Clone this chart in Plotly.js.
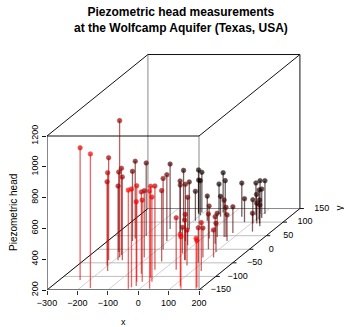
<!DOCTYPE html>
<html><head><meta charset="utf-8">
<script src="https://cdn.plot.ly/plotly-3.0.1.min.js"></script>
<style>html,body{margin:0;padding:0;background:#fff}</style>
</head><body><div id="chart" style="width:344px;height:327px"></div>
<script>
// ---- data ----
const wellX = [-232,-165,-219,-178,-202,-194,-199,-219,-174,-188,-220,-218,-38,-33,-38,-56,-113,-23,-20,-195,-144,-105,-84,-28,-9,32,12,-39,-133,-78,-94,-44,-81,-20,-94,-117,-106,-111,-100,-55,-44,-36,-28,67,-18,42,73,106,83,91,107,113,110,107,128,73,93,79,138,119,140,42,122,135,-4,33,31,61,185,182,87,130,80,23,65,65,44,101,115];
const wellY = [-113,-143,-40,-80,-60,-30,-20,-10,-40,-40,40,30,-120,-140,-145,-90,-30,-135,-120,50,75,30,0,-75,-105,-145,-120,-45,105,45,60,30,75,15,105,135,135,130,125,105,130,135,120,45,125,120,100,95,125,130,130,115,110,105,95,45,30,60,65,95,85,-75,-135,-145,-15,-40,-40,-60,-145,-140,-50,-80,-30,40,0,20,45,-10,-30];
const head  = [1058,1071,865,838,744,1088,761,719,740,681,701,653,824,838,840,731,633,747,731,672,621,631,660,743,794,834,751,660,527,564,511,569,505,511,391,477,462,420,425,360,394,459,332,440,425,418,352,354,410,416,416,388,391,371,352,393,371,370,319,331,338,537,535,537,369,497,460,431,527,503,428,514,391,410,429,376,354,386,378];
const xTicks = [-300,-200,-100,0,100,200];
const yTicks = [-150,-100,-50,0,50,100,150];
const zTicks = [200,400,600,800,1000,1200];
const titleText = "<b>Piezometric head measurements<br>at the Wolfcamp Aquifer (Texas, USA)</b>";

// ---- oblique (scatterplot3d-like) projection ----
const XR = [-300,200], YR = [-150,150], ZR = [200,1200];
const DX = 332/300, DZ = 529/300;           // shift of the receding y axis
const PX = (x,y) => x + (y - YR[0]) * DX;
const PZ = (z,y) => z + (y - YR[0]) * DZ;
const minus = v => String(v).replace('-','\u2212');

const traces = [];
function seg(list, color, width){
  const xs=[], ys=[];
  list.forEach(s=>{ xs.push(PX(s[0],s[1]), PX(s[3],s[4]), null); ys.push(PZ(s[2],s[1]), PZ(s[5],s[4]), null); });
  traces.push({type:'scatter',mode:'lines',x:xs,y:ys,line:{color:color,width:width},hoverinfo:'skip',showlegend:false,cliponaxis:false});
}
// floor grid
seg(xTicks.map(x=>[x,YR[0],ZR[0],x,YR[1],ZR[0]]), '#d0d0d0', 1);
seg(yTicks.map(y=>[XR[0],y,ZR[0],XR[1],y,ZR[0]]), '#bdbdbd', 1);
// hidden box edges
seg([[XR[1],YR[0],ZR[0],XR[1],YR[0],ZR[1]],
     [XR[0],YR[1],ZR[0],XR[0],YR[1],ZR[1]],
     [XR[0],YR[1],ZR[0],XR[1],YR[1],ZR[0]]], '#8a8a8a', 1);
// visible box edges
seg([[XR[0],YR[0],ZR[0],XR[0],YR[0],ZR[1]],
     [XR[0],YR[0],ZR[1],XR[1],YR[0],ZR[1]],
     [XR[0],YR[0],ZR[1],XR[0],YR[1],ZR[1]],
     [XR[1],YR[0],ZR[1],XR[1],YR[1],ZR[1]],
     [XR[0],YR[1],ZR[1],XR[1],YR[1],ZR[1]],
     [XR[1],YR[1],ZR[0],XR[1],YR[1],ZR[1]],
     [XR[0],YR[0],ZR[0],XR[0],YR[1],ZR[0]],
     [XR[1],YR[0],ZR[0],XR[1],YR[1],ZR[0]]], '#111', 1);
seg([[XR[0],YR[0],ZR[0],XR[1],YR[0],ZR[0]]], '#555', 1.6);
// y axis ticks and labels
{
  const xs=[], ys=[];
  yTicks.forEach(y=>{ xs.push(PX(XR[1],y), PX(XR[1],y)+13, null); ys.push(PZ(ZR[0],y), PZ(ZR[0],y), null); });
  traces.push({type:'scatter',mode:'lines',x:xs,y:ys,line:{color:'#111',width:1},hoverinfo:'skip',showlegend:false,cliponaxis:false});
  traces.push({type:'scatter',mode:'text',x:yTicks.map(y=>PX(XR[1],y)+72),y:yTicks.map(y=>PZ(ZR[0],y)),
    text:yTicks.map(minus),textposition:'middle center',
    textfont:{family:'Liberation Sans, Arial, sans-serif',size:9,color:'#000'},hoverinfo:'skip',showlegend:false,cliponaxis:false});
}
// points with drop lines (back to front)
const order = wellX.map((_,i)=>i).sort((a,b)=>wellY[b]-wellY[a]);
order.forEach(i=>{
  const t = 1 - (wellY[i]-YR[0])/(YR[1]-YR[0]);
  const r = Math.round(255*Math.max(0,Math.min(1,t)));
  traces.push({type:'scatter',mode:'lines+markers',
    x:[PX(wellX[i],wellY[i]), PX(wellX[i],wellY[i])],
    y:[PZ(ZR[0],wellY[i]), PZ(head[i],wellY[i])],
    line:{color:'rgba('+r+',0,0,0.62)',width:1.3},marker:{color:'rgb('+r+',0,0)',size:[0,4.6]},
    hoverinfo:'skip',showlegend:false,cliponaxis:false});
});

const W=344,H=327,L=47,R=2,T=54,B=37;
const pw=W-L-R, ph=H-T-B;
const layout = {
  width:W,height:H,margin:{l:L,r:R,t:T,b:B},
  paper_bgcolor:'#fff',plot_bgcolor:'#fff',showlegend:false,hovermode:false,
  font:{family:'Liberation Sans, Arial, sans-serif',color:'#000',size:9},
  xaxis:{range:[XR[0], XR[0]+pw/0.304],tickvals:xTicks,ticktext:xTicks.map(minus),
    ticks:'outside',ticklen:4,tickcolor:'#333',showgrid:false,zeroline:false,showline:false,
    tickfont:{size:9},fixedrange:true},
  yaxis:{range:[ZR[0], ZR[0]+ph/0.154],tickvals:zTicks,ticks:'outside',ticklen:4,tickcolor:'#111',tickangle:-90,
    showgrid:false,zeroline:false,showline:false,tickfont:{size:9},fixedrange:true},
  annotations:[
    {text:titleText,xref:'paper',x:(181-L)/pw,yref:'paper',y:1-(20-T)/ph,showarrow:false,
      font:{size:12},xanchor:'center',yanchor:'middle',align:'center'},
    {text:'x',xref:'paper',x:(123-L)/pw,yref:'paper',y:1-(322-T)/ph,showarrow:false,font:{size:9},xanchor:'center',yanchor:'middle'},
    {text:'Piezometric head',xref:'paper',x:(13-L)/pw,yref:'y',y:(ZR[0]+ZR[1])/2,textangle:-90,showarrow:false,font:{size:10},xanchor:'center',yanchor:'middle'},
    {text:'y',xref:'paper',x:(340-L)/pw,yref:'y',y:PZ(ZR[0],YR[1]),textangle:-90,showarrow:false,font:{size:10},xanchor:'center',yanchor:'middle'}
  ]
};
Plotly.newPlot('chart',traces,layout,{staticPlot:true,displayModeBar:false});
</script></body></html>
